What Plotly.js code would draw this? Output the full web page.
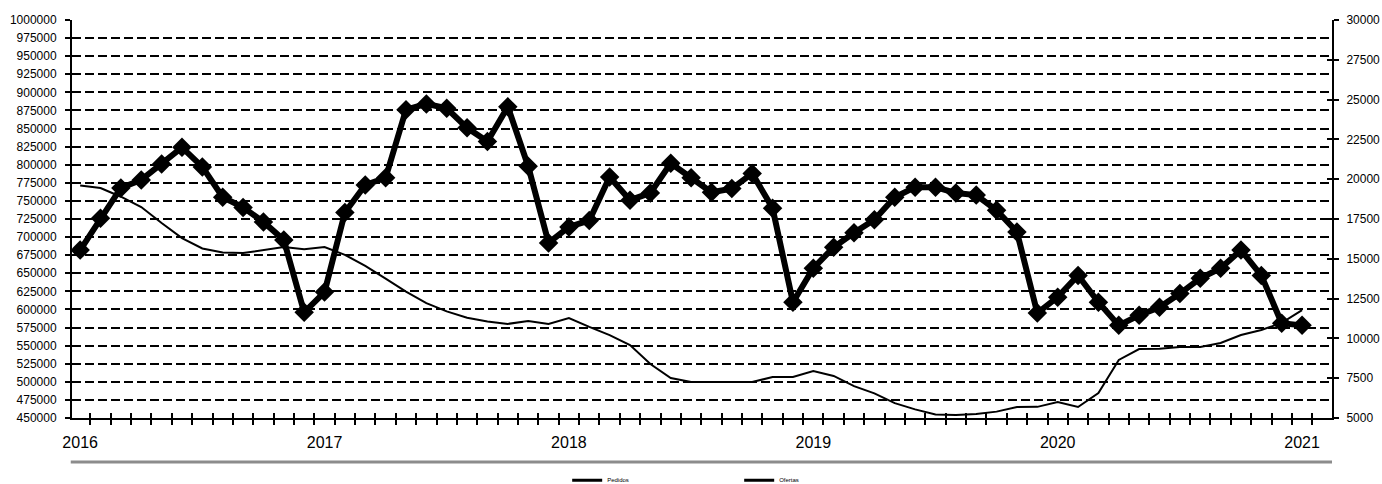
<!DOCTYPE html>
<html><head><meta charset="utf-8">
<script src="https://cdn.plot.ly/plotly-3.0.1.min.js"></script>
<style>body{margin:0;background:#fff}</style>
</head><body><div id="chart" style="width:1382px;height:484px"></div>
<script>
const months = [
"2016-01","2016-02","2016-03","2016-04","2016-05","2016-06","2016-07","2016-08","2016-09","2016-10","2016-11","2016-12",
"2017-01","2017-02","2017-03","2017-04","2017-05","2017-06","2017-07","2017-08","2017-09","2017-10","2017-11","2017-12",
"2018-01","2018-02","2018-03","2018-04","2018-05","2018-06","2018-07","2018-08","2018-09","2018-10","2018-11","2018-12",
"2019-01","2019-02","2019-03","2019-04","2019-05","2019-06","2019-07","2019-08","2019-09","2019-10","2019-11","2019-12",
"2020-01","2020-02","2020-03","2020-04","2020-05","2020-06","2020-07","2020-08","2020-09","2020-10","2020-11","2020-12",
"2021-01"];
const yearLabels = ["2016","2017","2018","2019","2020","2021"];
const pedidos = [
682000,726000,768000,779000,801000,824000,797000,755000,741000,721000,696000,596000,
624000,734000,772000,782000,876000,884000,878000,851000,832000,880000,798000,692000,
714000,723000,783000,751000,761000,802000,782000,762000,767000,788000,740000,610000,
657000,686000,706000,724000,755000,769000,769000,761000,758000,737000,707000,595000,
617000,647000,610000,578000,592000,603000,622000,643000,657000,682000,647000,581000,
578000];
const ofertas = [
19600,19450,18900,18250,17250,16300,15650,15400,15360,15550,15740,15600,
15740,15250,14550,13750,12940,12220,11700,11300,11060,10910,11090,10910,
11280,10720,10210,9585,8390,7510,7260,7260,7260,7260,7575,7575,
7950,7640,7000,6550,5930,5540,5220,5190,5250,5400,5690,5700,
6000,5690,6570,8650,9330,9350,9460,9460,9710,10210,10530,10970,
11780];
const leftRange = [450000, 1000000];
const rightRange = [5000, 30000];

const idx = months.map((m, i) => i);
const yearIdx = yearLabels.map(y => months.indexOf(y + "-01"));
const xRange = [-0.4, 61.47];
const FONT = "Liberation Sans, Arial, sans-serif";

const traces = [
  {x: idx, y: ofertas, xaxis: 'x', yaxis: 'y2', mode: 'lines', name: 'Ofertas',
   line: {color: '#000', width: 2}, showlegend: false, hoverinfo: 'skip'},
  {x: idx, y: pedidos, xaxis: 'x', yaxis: 'y', mode: 'lines+markers', name: 'Pedidos',
   line: {color: '#000', width: 6}, marker: {symbol: 'diamond', size: 15, color: '#000'},
   showlegend: false, hoverinfo: 'skip'},
  {x: [null], y: [null], xaxis: 'x2', yaxis: 'y3', mode: 'lines', showlegend: false, hoverinfo: 'skip'},
  {x: [null], y: [null], xaxis: 'x2', yaxis: 'y4', mode: 'lines', showlegend: false, hoverinfo: 'skip'},
  {x: [null], y: [null], xaxis: 'x', yaxis: 'y', mode: 'lines', name: 'Pedidos', line: {color: '#000', width: 3}},
  {x: [null], y: [null], xaxis: 'x', yaxis: 'y', mode: 'lines', name: 'Ofertas', line: {color: '#000', width: 3}}
];

const tickCommon = {tickcolor: '#000', tickwidth: 2, ticklen: 5};
const layout = {
  width: 1382, height: 484,
  margin: {l: 72, r: 50, t: 20, b: 66},
  paper_bgcolor: '#fff', plot_bgcolor: '#fff',
  font: {family: FONT, color: '#000', size: 12},
  showlegend: true,
  legend: {orientation: 'h', x: 0.393, xanchor: 'left', xref: 'paper',
           yref: 'container', y: 0.008, yanchor: 'middle',
           font: {size: 6, family: FONT, color: '#000'}, entrywidth: 127, entrywidthmode: 'pixels',
           bgcolor: 'rgba(0,0,0,0)', tracegroupgap: 0},
  xaxis: {type: 'linear', range: xRange, tickvals: yearIdx, ticktext: yearLabels,
          ticks: '', showgrid: false, zeroline: false, showline: true, linecolor: '#000', linewidth: 2,
          tickfont: {size: 16, family: FONT}, ticklabelstandoff: 9, automargin: false,
          minor: Object.assign({ticks: 'outside', tick0: 0.5, dtick: 1, showgrid: false}, tickCommon)},
  xaxis2: {type: 'linear', range: xRange, overlaying: 'x', anchor: 'y', showticklabels: false,
           showgrid: false, zeroline: false, showline: false, ticks: '', tickvals: [],
           minor: Object.assign({ticks: 'inside', tick0: 0.5, dtick: 1, showgrid: false}, tickCommon)},
  yaxis: Object.assign({range: leftRange, dtick: 25000, tick0: 450000, ticks: 'outside',
          showgrid: true, gridcolor: '#000', gridwidth: 2, griddash: '9px,4px', automargin: false,
          zeroline: false, showline: true, linecolor: '#000', linewidth: 2, tickformat: 'd',
          tickfont: {size: 12, family: FONT}, ticklabelstandoff: 6}, tickCommon),
  yaxis2: Object.assign({range: rightRange, dtick: 2500, tick0: 5000, overlaying: 'y', side: 'right',
          ticks: 'outside', showgrid: false, zeroline: false, showline: true, linecolor: '#000', linewidth: 2,
          automargin: false, tickformat: 'd', tickfont: {size: 12, family: FONT}, ticklabelstandoff: 5}, tickCommon),
  yaxis3: Object.assign({range: leftRange, dtick: 25000, tick0: 450000, overlaying: 'y', side: 'left',
          anchor: 'x2', ticks: 'inside', showticklabels: false, showgrid: false, zeroline: false,
          showline: false}, tickCommon),
  yaxis4: Object.assign({range: rightRange, dtick: 2500, tick0: 5000, overlaying: 'y', side: 'right',
          anchor: 'x2', ticks: 'inside', showticklabels: false, showgrid: false, zeroline: false,
          showline: false}, tickCommon),
  shapes: [{type: 'line', xref: 'paper', yref: 'paper', x0: -0.001, x1: 1.0, y0: -0.1106, y1: -0.1106,
            line: {color: '#8c8c8c', width: 3}}]
};

Plotly.newPlot('chart', traces, layout, {displayModeBar: false, staticPlot: true});
</script>
</body></html>
